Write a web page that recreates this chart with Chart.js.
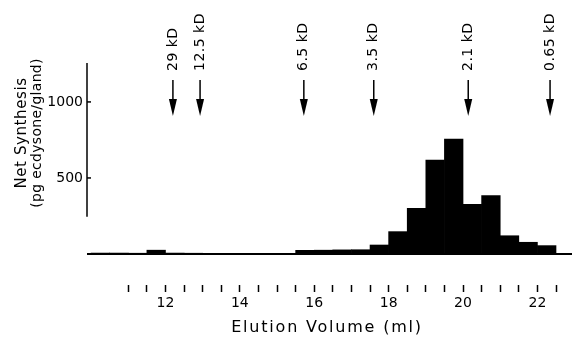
<!DOCTYPE html>
<html>
<head>
<meta charset="utf-8">
<script src="https://cdn.jsdelivr.net/npm/chart.js@4.4.1/dist/chart.umd.min.js"></script>
<style>
  html, body { margin: 0; padding: 0; background: #fff; }
</style>
</head>
<body>
<canvas id="chartElution" width="572" height="339"></canvas>
<script>
// start of each 0.5 ml fraction (ml)
const fractionStart = [10, 10.5, 11, 11.5, 12, 12.5, 13, 13.5, 14, 14.5, 15, 15.5, 16, 16.5,
                       17, 17.5, 18, 18.5, 19, 19.5, 20, 20.5, 21, 21.5, 22];
// net synthesis, pg ecdysone / gland
const netSynthesis = [6, 6, 5, 25, 6, 5, 4, 0, 0, 0, 0, 24, 25, 27,
                      28, 59, 147, 300, 618, 755, 327, 384, 120, 77, 55];

const xTickMarks = [11, 11.5, 12, 12.5, 13, 13.5, 14, 14.5, 15, 15.5, 16, 16.5,
                    17, 17.5, 18, 18.5, 19, 19.5, 20, 20.5, 21, 21.5, 22, 22.5];
const xTickLabels = [12, 14, 16, 18, 20, 22];
const yTicks = [500, 1000];

// molecular weight markers
const markerLabels = ['29 kD', '12.5 kD', '6.5 kD', '3.5 kD', '2.1 kD', '0.65 kD'];
const markerVolumes = [12.2, 12.93, 15.72, 17.6, 20.14, 22.34];

const FONT = '"DejaVu Sans", sans-serif';

const drawExtras = {
    id: 'drawExtras',
    afterDatasetsDraw(chart) {
        const { ctx, chartArea, scales: { x, y } } = chart;
        ctx.save();
        ctx.strokeStyle = '#000';
        ctx.fillStyle = '#000';

        // baseline
        const y0 = y.getPixelForValue(0);
        ctx.lineWidth = 2;
        ctx.beginPath();
        ctx.moveTo(chartArea.left, y0);
        ctx.lineTo(chartArea.right, y0);
        ctx.stroke();

        // y axis (does not reach the baseline)
        const ax = chartArea.left;
        ctx.lineWidth = 1.5;
        ctx.beginPath();
        ctx.moveTo(ax, y.getPixelForValue(245));
        ctx.lineTo(ax, chartArea.top);
        ctx.stroke();
        yTicks.forEach(v => {
            const py = y.getPixelForValue(v);
            ctx.beginPath();
            ctx.moveTo(ax, py);
            ctx.lineTo(ax + 4, py);
            ctx.stroke();
        });

        // markers
        ctx.letterSpacing = '0.5px';
        ctx.font = '14px ' + FONT;
        ctx.textAlign = 'left';
        ctx.textBaseline = 'middle';
        markerVolumes.forEach((v, i) => {
            const px = x.getPixelForValue(v);
            ctx.save();
            ctx.translate(px, 71);
            ctx.rotate(-Math.PI / 2);
            ctx.fillText(markerLabels[i], 0, 0);
            ctx.restore();

            ctx.lineWidth = 1.5;
            ctx.beginPath();
            ctx.moveTo(px, 80);
            ctx.lineTo(px, 102);
            ctx.stroke();
            ctx.beginPath();
            ctx.moveTo(px - 4, 99);
            ctx.lineTo(px + 4, 99);
            ctx.lineTo(px, 116);
            ctx.closePath();
            ctx.fill();
        });

        // y title
        ctx.textAlign = 'center';
        ctx.save();
        ctx.translate(22, 133);
        ctx.rotate(-Math.PI / 2);
        ctx.font = '15px ' + FONT;
        ctx.letterSpacing = '0.6px';
        ctx.fillText('Net Synthesis', 0, 0);
        ctx.restore();
        ctx.save();
        ctx.translate(37, 133);
        ctx.rotate(-Math.PI / 2);
        ctx.font = '14px ' + FONT;
        ctx.letterSpacing = '0.3px';
        ctx.fillText('(pg ecdysone/gland)', 0, 0);
        ctx.restore();

        // x title
        ctx.font = '16px ' + FONT;
        ctx.letterSpacing = '1.8px';
        ctx.fillText('Elution Volume (ml)', 327, 328);

        ctx.restore();
    }
};

const ctx = document.getElementById('chartElution').getContext('2d');
new Chart(ctx, {
    type: 'bar',
    data: {
        datasets: [{
            data: fractionStart.map((s, i) => ({ x: s + 0.25, y: netSynthesis[i] })),
            backgroundColor: '#000',
            borderWidth: 0,
            barPercentage: 1,
            categoryPercentage: 1
        }]
    },
    options: {
        responsive: false,
        animation: false,
        layout: { padding: { top: 63, right: 0, left: 0, bottom: 0 } },
        plugins: {
            legend: { display: false },
            tooltip: { enabled: false }
        },
        scales: {
            x: {
                type: 'linear',
                offset: false,
                min: 9.89,
                max: 22.93,
                afterBuildTicks: s => { s.ticks = xTickMarks.map(v => ({ value: v })); },
                afterFit: s => { s.height = 54; },
                ticks: {
                    autoSkip: false,
                    maxRotation: 0,
                    color: '#000',
                    padding: 3,
                    font: { family: FONT, size: 14 },
                    callback: v => xTickLabels.includes(v) ? String(v) : ''
                },
                grid: {
                    offset: false,
                    drawOnChartArea: false,
                    drawTicks: true,
                    tickLength: 7,
                    tickColor: '#000',
                    tickWidth: 1.5
                },
                border: { display: false }
            },
            y: {
                min: -204,
                max: 1256,
                afterBuildTicks: s => { s.ticks = yTicks.map(v => ({ value: v })); },
                afterFit: s => { s.width = 87; },
                ticks: {
                    color: '#000',
                    padding: 4,
                    font: { family: FONT, size: 14 },
                    callback: v => String(v)
                },
                grid: { display: false, drawTicks: false },
                border: { display: false }
            }
        }
    },
    plugins: [drawExtras]
});
</script>
</body>
</html>
